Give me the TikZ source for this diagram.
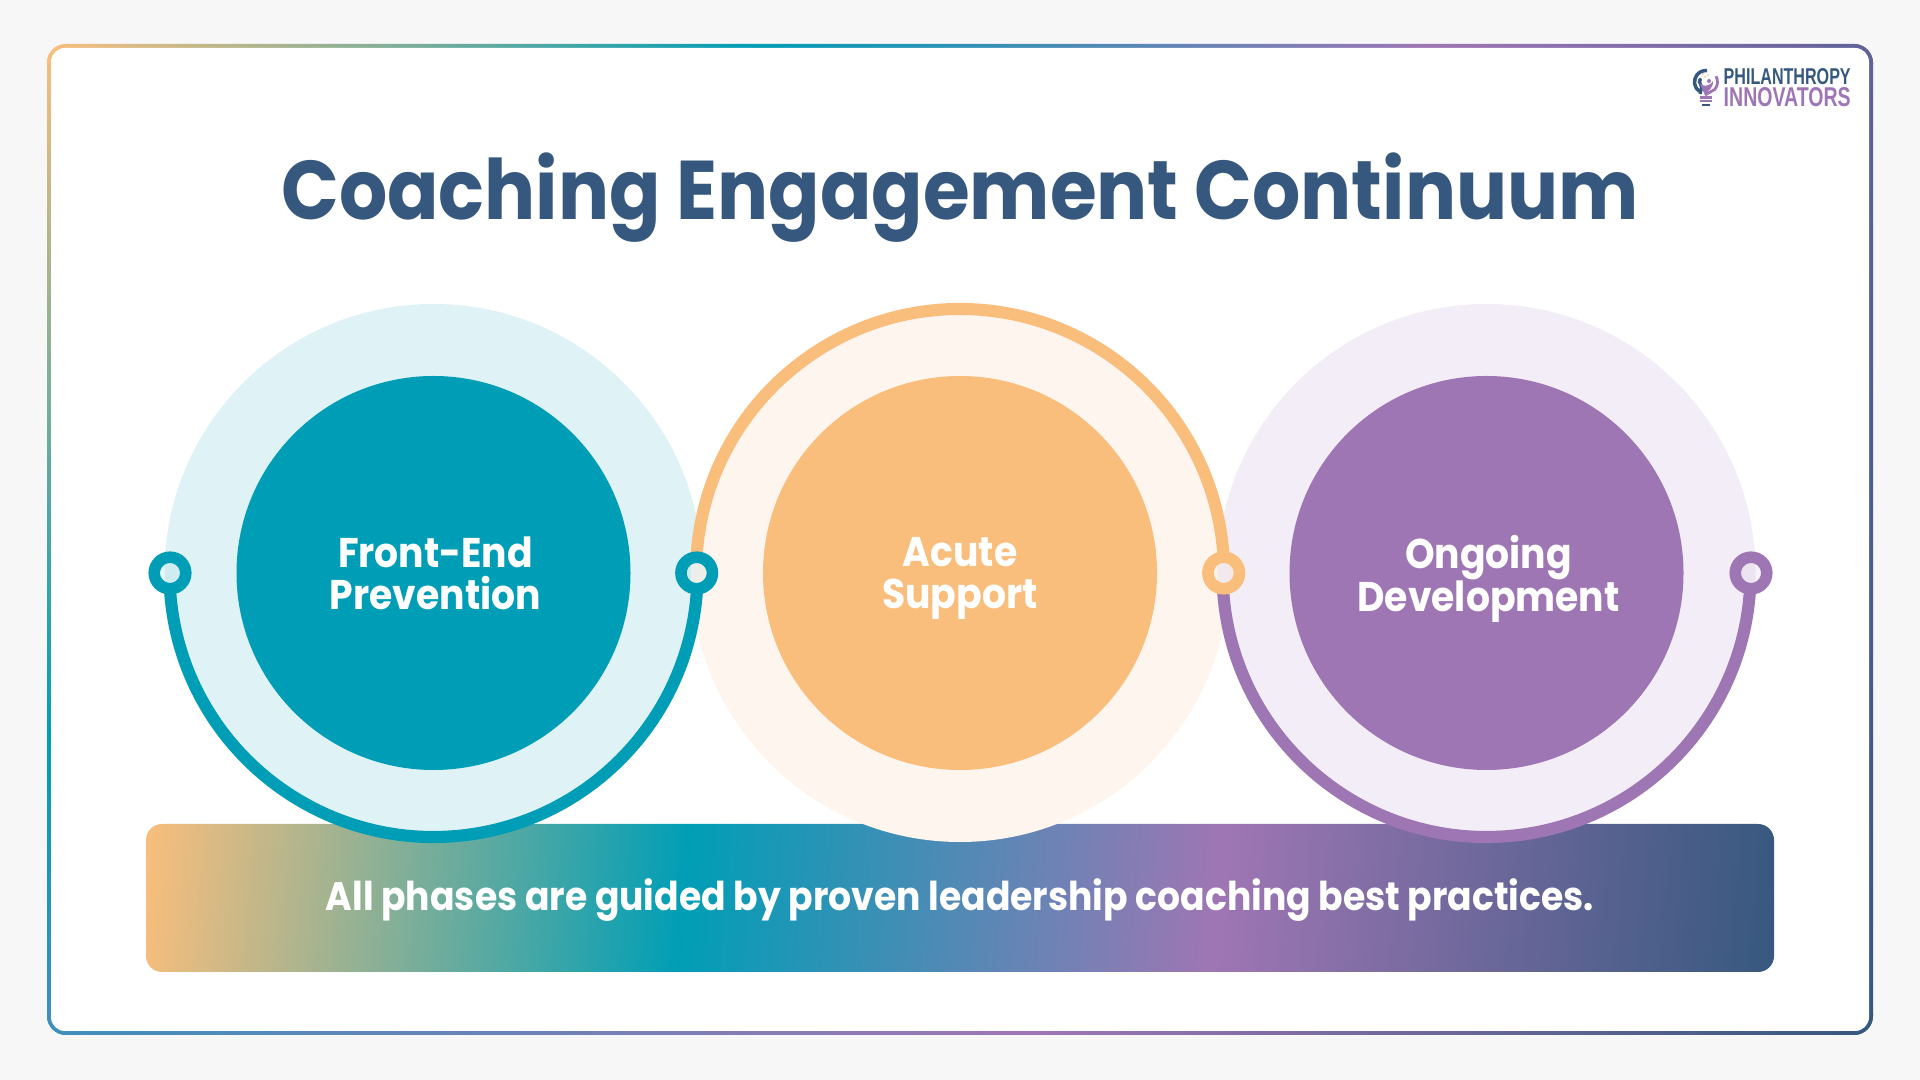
\documentclass[tikz,border=0pt]{standalone}
\usepackage{fontspec}
\setmainfont{Poppins}[FakeStretch=0.91]
\newfontfamily\logofont{Liberation Sans}
\usetikzlibrary{positioning,calc}

\definecolor{pagegrey}{HTML}{F7F7F7}
\definecolor{coachteal}{HTML}{009EB6}
\definecolor{coachpeach}{HTML}{FABE7C}
\definecolor{coachpurple}{HTML}{9F76B4}
\definecolor{coachnavy}{HTML}{36587F}
\definecolor{coachblue}{HTML}{3F8FBA}
\definecolor{coachindigo}{HTML}{5F6298}
\definecolor{paleteal}{HTML}{DFF2F6}
\definecolor{palepeach}{HTML}{FFF5EF}
\definecolor{palepurple}{HTML}{F2EDF6}

\pgfdeclarehorizontalshading{frametop}{100bp}{
  color(0bp)=(coachpeach); color(25bp)=(coachpeach);
  color(44.4bp)=(coachteal); color(62.9bp)=(coachpurple);
  color(75bp)=(coachindigo); color(100bp)=(coachindigo)}
\pgfdeclarehorizontalshading{framebottom}{100bp}{
  color(0bp)=(coachblue); color(25bp)=(coachblue);
  color(51.9bp)=(coachpurple);
  color(75bp)=(coachnavy); color(100bp)=(coachnavy)}
\pgfdeclarehorizontalshading{frameleft}{100bp}{
  color(0bp)=(coachpeach); color(25bp)=(coachpeach);
  color(59.8bp)=(coachteal);
  color(75bp)=(coachblue); color(100bp)=(coachblue)}
\pgfdeclarehorizontalshading{frameright}{100bp}{
  color(0bp)=(coachindigo); color(25bp)=(coachindigo);
  color(75bp)=(coachnavy); color(100bp)=(coachnavy)}
\pgfdeclarehorizontalshading{barramp}{100bp}{
  color(0bp)=(coachpeach); color(22.9bp)=(coachpeach);
  color(40.9bp)=(coachteal); color(58.5bp)=(coachpurple);
  color(77.1bp)=(coachnavy); color(100bp)=(coachnavy)}

\newcommand{\labelstrut}{\rule[-3pt]{0pt}{10pt}}

\tikzset{
  halo/.style={circle, minimum size=5.38cm, inner sep=0pt},
  core/.style={circle, minimum size=3.94cm, inner sep=0pt},
  corelabel/.style={text=white, align=center, yshift=-0.055cm, font={\fontsize{11.8}{12.2}\selectfont\bfseries\setlength{\lineskiplimit}{-10pt}}},
  ring/.style={line width=3.45pt},
  dotmark/.style={circle, minimum size=0.315cm, inner sep=0pt, line width=3.3pt, fill opacity=0.07}
}

\begin{document}
\begin{tikzpicture}
    \useasboundingbox (0,0) rectangle (19.2,10.8);
    % Page and frame
    \fill[pagegrey] (0,0) rectangle (19.2,10.8);
    \begin{scope}
        \clip[rounded corners=0.19cm] (0.47,0.45) rectangle (18.73,10.36);
        \shade[shading=frameleft, shading angle=-90] (0.47,0.45) rectangle (0.67,10.36);
        \shade[shading=frameright, shading angle=-90] (18.53,0.45) rectangle (18.73,10.36);
        \shade[shading=frametop] (0.47,10.16) rectangle (18.73,10.36);
        \shade[shading=framebottom] (0.47,0.45) rectangle (18.73,0.65);
    \end{scope}
    \fill[white, rounded corners=0.14cm] (0.51,0.49) rectangle (18.69,10.32);

    % Title
    \node[text=coachnavy, font=\fontsize{23.7}{28}\selectfont\bfseries] (title) at (9.6,8.82) {Coaching Engagement Continuum};

    % Bar
    \shade[shading=barramp, shading angle=-5, rounded corners=0.16cm] (1.46,1.08) rectangle (17.74,2.56);
    \node[text=white, font=\fontsize{11.3}{14}\selectfont\bfseries] (barlabel) at (9.6,1.8) {All phases are guided by proven leadership coaching best practices.};

    % Pale circles
    \node[halo, fill=paleteal] (haloA) at (4.335,5.07) {};
    \node[halo, fill=palepeach] (haloB) at (9.6,5.07) {};
    \node[halo, fill=palepurple] (haloC) at (14.865,5.07) {};

    % Rings
    \draw[ring, coachteal] (haloA.center) ++(184:2.64) arc (184:356:2.64);
    \draw[ring, coachpeach] (haloB.center) ++(176:2.64) arc (176:4:2.64);
    \draw[ring, coachpurple] (haloC.center) ++(184:2.64) arc (184:356:2.64);

    % Solid circles
    \node[core, fill=coachteal] (coreA) at (haloA) {};
    \node[core, fill=coachpeach] (coreB) at (haloB) {};
    \node[core, fill=coachpurple] (coreC) at (haloC) {};
    \node[corelabel, xshift=0.02cm] (labelA) at (coreA) {\labelstrut Front-End\\\labelstrut Prevention};
    \node[corelabel] (labelB) at (coreB) {\labelstrut Acute\\\labelstrut Support};
    \node[corelabel, xshift=0.02cm] (labelC) at (coreC) {\labelstrut Ongoing\\\labelstrut Development};

    % End dots
    \node[dotmark, draw=coachteal, fill=coachteal] (dotA) at (1.70,5.07) {};
    \node[dotmark, draw=coachteal, fill=coachteal] (dotB) at (6.967,5.07) {};
    \node[dotmark, draw=coachpeach, fill=coachpeach] (dotC) at (12.237,5.07) {};
    \node[dotmark, draw=coachpurple, fill=coachpurple] (dotD) at (17.51,5.07) {};

    % Logo
    \node[inner sep=0pt, anchor=south west, text=coachnavy] (logotop) at (17.23,9.95) {\resizebox{1.27cm}{0.16cm}{\logofont\bfseries PHILANTHROPY}};
    \node[inner sep=0pt, anchor=south west, text=coachpurple] (logobottom) at (17.23,9.73) {\resizebox{1.27cm}{0.19cm}{\logofont\bfseries INNOVATORS}};
    \coordinate (bulb) at (17.06,9.98);
    \draw[coachnavy, line width=1pt] ($(bulb)+(235:0.115)$) arc (235:85:0.115);
    \draw[coachpurple, line width=0.8pt] ($(bulb)+(30:0.115)$) arc (30:-40:0.115) -- (17.05,9.85);
    \draw[coachnavy, line width=0.9pt] (16.99,9.99) .. controls (17.02,9.93) .. (17.0,9.86);
    \fill[coachpurple] (17.0,9.97) .. controls (17.03,9.93) and (17.09,9.93) .. (17.13,9.99) .. controls (17.14,9.93) and (17.08,9.89) .. (17.05,9.85) .. controls (17.03,9.89) and (17.01,9.93) .. (17.0,9.97);
    \fill[coachnavy] (17.0,10.0) circle (0.02);
    \fill[coachpurple] (17.09,9.99) circle (0.02);
    \fill[coachpeach] (17.05,10.03) circle (0.009) (17.08,10.05) circle (0.009) (17.03,10.06) circle (0.009);
    \draw[coachpurple, line width=0.7pt] (17.0,9.823) -- (17.12,9.823) (17.0,9.79) -- (17.12,9.79);
    \draw[coachnavy, line width=0.8pt] (17.02,9.75) -- (17.10,9.75);
\end{tikzpicture}
\end{document}
